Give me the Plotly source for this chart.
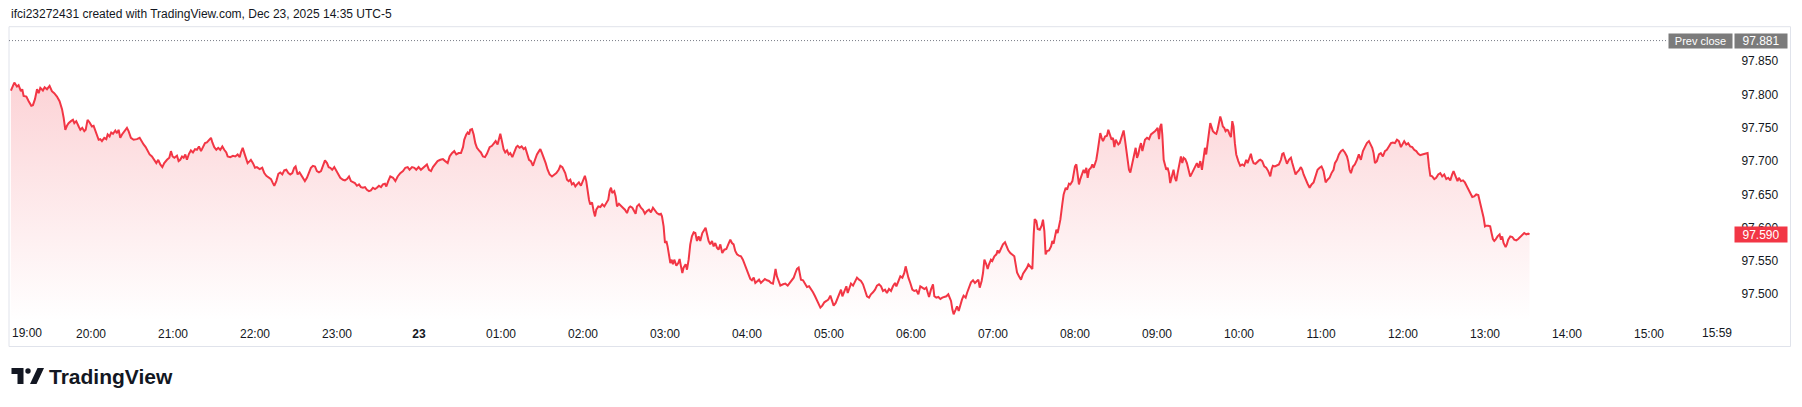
import pandas as pd
import plotly.graph_objects as go

# ---------------- data ----------------
TITLE = "ifci23272431 created with TradingView.com, Dec 23, 2025 14:35 UTC-5"
SESSION_START = "2025-12-22 19:00"
PREV_CLOSE = 97.881

# minutes since 19:00 (Dec 22) and price, in four stretches
seg1_min = [1.4, 3.9, 5.8, 7.0, 8.7, 9.7, 10.7, 12.7, 14.4, 16.3,
            17.5, 19.0, 20.5, 21.7, 22.9, 24.8, 26.1, 27.8, 29.7, 31.4,
            33.1, 35.1, 37.0, 38.8, 40.0, 41.2, 42.4, 43.6, 45.3, 46.8,
            47.8, 49.2, 51.0, 52.2, 53.6, 55.1, 56.1, 57.5, 59.0, 60.7,
            61.9, 63.9, 65.6, 66.8, 68.0, 69.7, 71.2, 72.2, 73.6, 74.8,
            76.1, 77.8, 79.0, 80.2, 81.4, 82.7, 84.4, 86.3, 87.5, 89.2,
            91.2, 93.6, 95.6, 97.3, 98.5, 100.0, 100.9, 102.9, 104.6, 106.3,
            107.8, 109.2, 110.7, 112.2, 113.6, 115.6, 117.3, 118.5, 119.7, 121.0,
            122.9, 124.1, 125.3, 126.6, 127.8, 129.0, 130.2, 131.7, 133.1, 134.6,
            136.1, 137.5, 139.0, 140.5, 141.9, 143.4, 144.8, 146.3, 147.8, 148.8,
            150.2, 151.7, 153.1, 154.6, 156.1, 157.5, 159.0, 160.0, 161.9, 163.9,
            165.6, 167.3, 168.8, 169.7, 171.0, 172.2, 173.4, 174.6, 176.1, 177.0,
            178.5, 180.0, 181.4, 183.4, 185.3, 186.8, 188.3, 190.2, 191.7, 193.1,
            194.1, 195.6, 197.1, 198.5, 200.0, 201.4, 202.9, 204.4, 205.8, 207.3,
            208.7, 209.7, 211.2, 212.6, 214.1, 215.6, 216.5, 218.0, 219.5, 220.9,
            222.4, 223.9, 225.3, 226.8, 228.3, 229.7, 231.2, 232.7, 233.9, 235.1,
            236.5, 238.0, 239.5, 240.9, 242.4, 244.4, 245.8, 247.3, 248.8, 250.2,
            251.7, 253.1, 254.6, 256.1, 257.5, 259.0, 260.5, 261.9, 263.4, 264.8,
            266.3, 267.8, 269.2, 270.7, 272.2, 273.6, 275.1, 276.1, 277.5, 278.5]
seg1_px = [97.806, 97.818, 97.812, 97.814, 97.805, 97.808, 97.798, 97.797, 97.790, 97.783,
           97.784, 97.793, 97.808, 97.802, 97.810, 97.806, 97.811, 97.808, 97.813, 97.805,
           97.802, 97.797, 97.790, 97.778, 97.765, 97.747, 97.753, 97.757, 97.760, 97.762,
           97.757, 97.760, 97.752, 97.747, 97.750, 97.745, 97.747, 97.762, 97.758, 97.752,
           97.753, 97.740, 97.732, 97.733, 97.730, 97.735, 97.733, 97.740, 97.737, 97.743,
           97.741, 97.746, 97.742, 97.747, 97.735, 97.740, 97.745, 97.750, 97.745, 97.735,
           97.732, 97.733, 97.735, 97.728, 97.725, 97.721, 97.717, 97.710, 97.707, 97.702,
           97.697, 97.702, 97.695, 97.691, 97.697, 97.702, 97.705, 97.715, 97.707, 97.705,
           97.708, 97.700, 97.702, 97.707, 97.705, 97.710, 97.702, 97.711, 97.716, 97.713,
           97.718, 97.717, 97.722, 97.715, 97.720, 97.727, 97.728, 97.732, 97.735, 97.728,
           97.721, 97.717, 97.720, 97.717, 97.722, 97.717, 97.713, 97.707, 97.706, 97.708,
           97.707, 97.710, 97.706, 97.713, 97.720, 97.712, 97.705, 97.697, 97.700, 97.702,
           97.697, 97.690, 97.691, 97.688, 97.690, 97.682, 97.678, 97.675, 97.673, 97.667,
           97.663, 97.670, 97.681, 97.683, 97.680, 97.686, 97.687, 97.682, 97.680, 97.682,
           97.690, 97.692, 97.680, 97.683, 97.678, 97.673, 97.670, 97.675, 97.682, 97.690,
           97.693, 97.692, 97.685, 97.683, 97.685, 97.693, 97.701, 97.697, 97.691, 97.690,
           97.687, 97.691, 97.685, 97.680, 97.675, 97.672, 97.671, 97.673, 97.677, 97.670,
           97.668, 97.667, 97.663, 97.665, 97.661, 97.660, 97.661, 97.657, 97.655, 97.656,
           97.660, 97.658, 97.660, 97.663, 97.661, 97.665, 97.666, 97.662, 97.670, 97.677]

seg2_min = [279.0, 281.0, 282.7, 284.4, 286.3, 288.3, 290.0, 291.7, 293.1, 294.9,
            296.6, 298.0, 299.7, 301.4, 302.9, 304.6, 305.8, 307.3, 308.8, 310.2,
            311.9, 313.6, 315.6, 317.5, 319.2, 321.0, 322.4, 324.1, 325.8, 327.3,
            329.0, 330.7, 332.2, 333.1, 334.6, 335.6, 336.6, 337.5, 338.8, 340.0,
            341.2, 342.4, 343.9, 345.3, 346.8, 348.3, 349.7, 350.7, 351.7, 353.4,
            354.6, 356.1, 357.5, 358.5, 359.5, 360.7, 361.9, 363.1, 364.4, 365.6,
            366.8, 368.3, 369.7, 371.2, 372.2, 373.6, 375.1, 376.6, 377.8, 379.0,
            380.5, 381.9, 383.4, 384.9, 386.3, 387.8, 388.8, 390.0, 391.2, 392.7,
            394.1, 395.6, 397.3, 399.0, 400.5, 402.2, 403.4, 404.9, 405.8, 407.0,
            408.3, 409.5, 410.7, 411.9, 413.1, 414.4, 415.6, 417.0, 418.5, 420.0,
            421.4, 422.4, 423.4, 424.4, 425.3, 426.6, 427.8, 428.8, 429.7, 431.2,
            432.7, 434.1, 435.6, 437.0, 438.5, 439.5, 440.5, 441.4, 442.9, 443.9,
            444.9, 446.3, 447.8, 449.2, 450.7, 452.2, 453.6, 454.6, 456.1, 457.5,
            458.5, 459.5, 461.0, 462.4, 463.9, 465.3, 466.8, 468.3, 469.7, 471.2,
            472.7, 474.1, 475.6, 477.0, 477.8, 479.0, 480.0, 481.0, 481.9, 482.9,
            483.9, 484.9, 485.8, 486.8, 488.3, 489.7, 490.7, 491.7, 492.7, 493.6,
            495.1, 496.1, 497.3, 498.5, 499.7, 501.0, 502.2, 503.4, 504.6, 505.8,
            507.3, 508.8, 509.7, 510.7, 511.9, 513.1, 514.4, 515.6, 516.8, 518.0,
            519.2, 520.5, 521.9, 523.4, 524.9, 526.3, 527.8, 529.0, 530.2, 531.4,
            532.7, 534.1, 535.6, 537.0, 538.5, 540.0, 541.2, 542.4, 543.6, 544.9,
            546.1, 547.3, 548.8, 550.2, 551.7, 553.1, 554.6, 556.1, 557.5, 559.0,
            560.0, 560.9, 561.9, 563.1]
seg2_px = [97.677, 97.675, 97.670, 97.677, 97.682, 97.685, 97.690, 97.691, 97.687, 97.691,
           97.690, 97.687, 97.691, 97.687, 97.690, 97.692, 97.695, 97.687, 97.685, 97.691,
           97.696, 97.700, 97.702, 97.703, 97.700, 97.697, 97.707, 97.712, 97.715, 97.710,
           97.712, 97.712, 97.721, 97.732, 97.740, 97.743, 97.740, 97.747, 97.748, 97.740,
           97.727, 97.720, 97.716, 97.713, 97.707, 97.706, 97.711, 97.717, 97.721, 97.723,
           97.727, 97.730, 97.725, 97.732, 97.741, 97.730, 97.718, 97.713, 97.716, 97.710,
           97.712, 97.706, 97.715, 97.721, 97.723, 97.720, 97.722, 97.718, 97.720, 97.710,
           97.702, 97.700, 97.693, 97.702, 97.710, 97.715, 97.718, 97.712, 97.706, 97.697,
           97.687, 97.680, 97.677, 97.680, 97.682, 97.687, 97.693, 97.691, 97.687, 97.682,
           97.672, 97.670, 97.672, 97.665, 97.667, 97.662, 97.665, 97.668, 97.663, 97.672,
           97.678, 97.670, 97.652, 97.642, 97.635, 97.638, 97.625, 97.617, 97.627, 97.632,
           97.631, 97.635, 97.632, 97.636, 97.642, 97.655, 97.660, 97.652, 97.655, 97.647,
           97.632, 97.636, 97.632, 97.630, 97.627, 97.622, 97.630, 97.632, 97.630, 97.625,
           97.621, 97.632, 97.635, 97.630, 97.627, 97.621, 97.625, 97.627, 97.623, 97.630,
           97.625, 97.622, 97.620, 97.621, 97.617, 97.602, 97.577, 97.580, 97.572, 97.555,
           97.547, 97.552, 97.545, 97.552, 97.543, 97.547, 97.553, 97.542, 97.532, 97.540,
           97.545, 97.537, 97.552, 97.575, 97.587, 97.593, 97.592, 97.580, 97.587, 97.580,
           97.592, 97.597, 97.600, 97.591, 97.580, 97.575, 97.580, 97.572, 97.577, 97.570,
           97.567, 97.575, 97.562, 97.567, 97.568, 97.575, 97.582, 97.577, 97.575, 97.565,
           97.560, 97.558, 97.557, 97.552, 97.543, 97.537, 97.528, 97.523, 97.521, 97.525,
           97.517, 97.520, 97.522, 97.517, 97.520, 97.523, 97.521, 97.520, 97.517, 97.516,
           97.527, 97.538, 97.527, 97.520]

seg3_min = [564.4, 566.4, 568.1, 569.8, 571.2, 572.9, 574.2, 575.4, 576.6, 577.8,
            578.5, 579.5, 581.0, 582.4, 583.9, 585.4, 586.8, 588.3, 589.8, 591.2,
            592.4, 593.7, 595.1, 596.6, 598.1, 599.5, 601.0, 602.2, 603.4, 604.9,
            606.4, 607.8, 608.8, 609.8, 611.2, 612.7, 613.7, 615.1, 616.1, 617.6,
            619.0, 620.5, 622.0, 623.4, 624.9, 626.4, 627.8, 629.3, 630.7, 632.2,
            633.7, 635.1, 636.6, 638.1, 639.5, 641.0, 642.4, 643.9, 645.4, 646.8,
            648.3, 649.3, 650.7, 652.2, 653.7, 655.1, 656.1, 657.1, 658.1, 659.5,
            661.0, 662.4, 663.9, 665.4, 666.8, 668.3, 669.8, 671.2, 672.2, 673.2,
            674.6, 676.1, 677.1, 678.5, 680.0, 681.5, 682.9, 684.4, 685.9, 687.3,
            688.3, 689.3, 690.3, 691.2, 692.7, 693.7, 694.9, 696.1, 697.3, 698.5,
            700.0, 701.0, 702.4, 703.9, 705.4, 706.8, 708.3, 709.3, 710.3, 711.7,
            712.7, 713.7, 715.1, 716.1, 717.1, 718.5, 719.5, 721.0, 722.5, 723.4,
            724.4, 725.9, 727.3, 728.8, 730.3, 731.2, 732.7, 734.2, 735.6, 736.6,
            737.6, 739.0, 740.5, 742.0, 743.4, 744.9, 745.9, 747.3, 748.8, 749.8,
            750.5, 751.7, 752.7, 754.2, 755.6, 756.6, 757.6, 758.5, 759.5, 761.0,
            762.5, 763.4, 764.4, 765.4, 766.4, 767.3, 768.3, 769.3, 770.7, 771.7,
            773.2, 774.2, 775.6, 776.6, 778.1, 779.0, 780.0, 781.0, 782.0, 782.9,
            783.9, 785.4, 786.3, 787.3, 788.3, 789.3, 790.3, 791.7, 792.7, 793.7,
            794.6, 795.6, 796.6, 797.6, 798.5, 799.5, 800.5, 802.0, 803.4, 804.4,
            805.4, 806.8, 807.8, 808.8, 809.8, 810.7, 811.7, 812.7, 813.7, 814.6,
            815.6, 816.6, 818.1, 819.5, 820.5, 821.5, 822.4, 823.4, 824.4, 825.4,
            826.3, 827.3, 828.3, 829.3, 830.3, 831.2, 832.7, 834.2, 835.6, 837.1,
            838.5, 839.5, 840.5, 841.5, 842.4, 843.2, 843.9, 844.9, 845.9, 846.8,
            847.8, 848.8]
seg3_px = [97.513, 97.515, 97.516, 97.513, 97.517, 97.522, 97.525, 97.532, 97.538, 97.540,
           97.530, 97.522, 97.521, 97.516, 97.511, 97.512, 97.508, 97.503, 97.497, 97.491,
           97.485, 97.480, 97.483, 97.488, 97.490, 97.492, 97.498, 97.491, 97.483, 97.487,
           97.495, 97.502, 97.507, 97.497, 97.505, 97.512, 97.502, 97.512, 97.516, 97.513,
           97.520, 97.525, 97.522, 97.520, 97.515, 97.507, 97.497, 97.495, 97.500, 97.503,
           97.507, 97.513, 97.515, 97.512, 97.505, 97.507, 97.502, 97.508, 97.505, 97.512,
           97.517, 97.512, 97.520, 97.527, 97.525, 97.532, 97.542, 97.533, 97.525, 97.517,
           97.507, 97.505, 97.506, 97.500, 97.512, 97.510, 97.508, 97.510, 97.502, 97.496,
           97.507, 97.515, 97.497, 97.495, 97.496, 97.493, 97.495, 97.496, 97.497, 97.500,
           97.496, 97.490, 97.477, 97.470, 97.477, 97.482, 97.475, 97.485, 97.492, 97.498,
           97.495, 97.502, 97.510, 97.518, 97.521, 97.517, 97.520, 97.522, 97.510, 97.520,
           97.532, 97.552, 97.545, 97.538, 97.545, 97.552, 97.550, 97.557, 97.560, 97.566,
           97.562, 97.568, 97.575, 97.578, 97.571, 97.566, 97.562, 97.560, 97.557, 97.545,
           97.533, 97.527, 97.522, 97.531, 97.535, 97.540, 97.545, 97.542, 97.538, 97.590,
           97.613, 97.610, 97.598, 97.597, 97.603, 97.612, 97.595, 97.560, 97.565, 97.566,
           97.572, 97.580, 97.576, 97.587, 97.597, 97.592, 97.602, 97.612, 97.635, 97.650,
           97.660, 97.657, 97.666, 97.665, 97.670, 97.682, 97.692, 97.695, 97.677, 97.665,
           97.673, 97.682, 97.687, 97.682, 97.690, 97.675, 97.687, 97.690, 97.695, 97.690,
           97.695, 97.702, 97.715, 97.727, 97.742, 97.735, 97.730, 97.737, 97.738, 97.747,
           97.740, 97.732, 97.735, 97.721, 97.732, 97.728, 97.725, 97.727, 97.733, 97.740,
           97.746, 97.732, 97.705, 97.687, 97.683, 97.692, 97.702, 97.712, 97.720, 97.705,
           97.710, 97.720, 97.727, 97.715, 97.723, 97.732, 97.735, 97.733, 97.740, 97.742,
           97.745, 97.747, 97.750, 97.733, 97.752, 97.756, 97.740, 97.702, 97.692, 97.687,
           97.690, 97.682]

seg4_min = [849.7, 850.9, 852.1, 853.1, 854.1, 855.1, 856.5, 857.5, 858.5, 859.5,
            860.7, 861.9, 863.1, 864.3, 865.6, 866.8, 868.0, 869.2, 870.4, 871.7,
            872.9, 874.1, 875.1, 876.0, 877.0, 878.0, 879.0, 879.9, 880.9, 882.4,
            883.4, 884.3, 885.3, 886.3, 887.3, 888.2, 889.2, 890.2, 891.2, 892.1,
            893.1, 894.1, 895.1, 896.0, 897.0, 898.0, 899.5, 900.9, 902.4, 903.8,
            905.3, 906.3, 907.7, 908.7, 909.7, 910.7, 912.1, 913.6, 914.6, 915.6,
            917.0, 918.5, 919.9, 921.4, 922.9, 923.8, 924.8, 926.3, 927.7, 929.2,
            930.7, 931.7, 932.6, 933.6, 935.1, 936.5, 938.0, 939.0, 940.4, 941.4,
            942.4, 943.8, 945.3, 946.3, 947.3, 948.7, 950.2, 951.7, 953.1, 954.6,
            956.0, 957.5, 959.0, 960.4, 961.9, 963.4, 964.8, 966.3, 967.7, 969.2,
            970.2, 971.7, 973.1, 974.6, 976.0, 977.5, 979.0, 979.9, 980.9, 981.9,
            983.4, 984.8, 986.3, 987.7, 989.2, 990.7, 992.1, 993.6, 995.1, 996.5,
            997.5, 998.5, 999.5, 1000.9, 1002.4, 1003.8, 1005.3, 1006.8, 1008.2, 1009.7,
            1011.2, 1012.6, 1014.1, 1015.6, 1017.0, 1018.5, 1019.9, 1020.9, 1022.4, 1023.8,
            1025.3, 1026.8, 1028.2, 1029.7, 1031.2, 1032.6, 1034.1, 1035.6, 1037.0, 1038.0,
            1039.0, 1040.0, 1041.4, 1042.9, 1044.3, 1045.8, 1047.3, 1048.7, 1050.2, 1051.7,
            1053.1, 1054.6, 1056.0, 1057.0, 1058.5, 1059.9, 1060.9, 1062.4, 1063.9, 1065.3,
            1066.8, 1068.2, 1069.7, 1070.7, 1072.1, 1073.6, 1075.1, 1076.0, 1077.0, 1078.0,
            1079.0, 1080.0, 1080.9, 1082.4, 1083.8, 1084.8, 1085.8, 1086.8, 1087.7, 1089.2,
            1090.7, 1091.7, 1092.6, 1093.6, 1095.1, 1096.0, 1097.0, 1098.5, 1100.0, 1101.4,
            1102.9, 1104.3, 1105.8, 1107.3, 1108.7, 1110.2, 1111.6, 1112.6]
seg4_px = [97.667, 97.680, 97.687, 97.675, 97.670, 97.682, 97.700, 97.707, 97.697, 97.705,
           97.703, 97.697, 97.687, 97.677, 97.682, 97.687, 97.692, 97.697, 97.690, 97.700,
           97.687, 97.707, 97.720, 97.710, 97.730, 97.742, 97.757, 97.752, 97.745, 97.742,
           97.741, 97.747, 97.755, 97.767, 97.760, 97.752, 97.750, 97.745, 97.747, 97.746,
           97.740, 97.736, 97.760, 97.752, 97.727, 97.710, 97.700, 97.693, 97.695, 97.693,
           97.702, 97.697, 97.705, 97.711, 97.702, 97.697, 97.696, 97.700, 97.701, 97.702,
           97.700, 97.692, 97.690, 97.685, 97.677, 97.687, 97.693, 97.692, 97.693, 97.695,
           97.702, 97.711, 97.712, 97.706, 97.696, 97.702, 97.705, 97.697, 97.687, 97.680,
           97.683, 97.686, 97.691, 97.687, 97.680, 97.672, 97.666, 97.660, 97.665, 97.668,
           97.677, 97.687, 97.690, 97.692, 97.685, 97.668, 97.672, 97.675, 97.682, 97.687,
           97.697, 97.702, 97.710, 97.715, 97.717, 97.713, 97.707, 97.700, 97.687, 97.682,
           97.692, 97.695, 97.702, 97.710, 97.702, 97.715, 97.721, 97.727, 97.730, 97.725,
           97.720, 97.712, 97.697, 97.700, 97.710, 97.712, 97.707, 97.715, 97.717, 97.722,
           97.727, 97.728, 97.727, 97.732, 97.730, 97.721, 97.727, 97.730, 97.725, 97.727,
           97.722, 97.721, 97.717, 97.715, 97.711, 97.709, 97.710, 97.711, 97.712, 97.712,
           97.692, 97.678, 97.677, 97.673, 97.675, 97.680, 97.682, 97.677, 97.680, 97.673,
           97.675, 97.671, 97.680, 97.685, 97.677, 97.670, 97.675, 97.670, 97.671, 97.668,
           97.662, 97.656, 97.651, 97.646, 97.647, 97.650, 97.649, 97.642, 97.632, 97.622,
           97.615, 97.602, 97.603, 97.603, 97.602, 97.592, 97.583, 97.580, 97.582, 97.587,
           97.590, 97.582, 97.587, 97.577, 97.571, 97.575, 97.582, 97.587, 97.586, 97.582,
           97.581, 97.583, 97.586, 97.590, 97.592, 97.590, 97.591, 97.590]

x_tick_times = ["2025-12-22 20:00", "2025-12-22 21:00", "2025-12-22 22:00", "2025-12-22 23:00",
                "2025-12-23 00:00", "2025-12-23 01:00", "2025-12-23 02:00", "2025-12-23 03:00",
                "2025-12-23 04:00", "2025-12-23 05:00", "2025-12-23 06:00", "2025-12-23 07:00",
                "2025-12-23 08:00", "2025-12-23 09:00", "2025-12-23 10:00", "2025-12-23 11:00",
                "2025-12-23 12:00", "2025-12-23 13:00", "2025-12-23 14:00", "2025-12-23 15:00"]
x_tick_text = ["20:00", "21:00", "22:00", "23:00", "<b>23</b>", "01:00", "02:00", "03:00",
               "04:00", "05:00", "06:00", "07:00", "08:00", "09:00", "10:00", "11:00",
               "12:00", "13:00", "14:00", "15:00"]
FIRST_LABEL = "19:00"
LAST_LABEL = "15:59"
y_tick_vals = [97.500, 97.550, 97.600, 97.650, 97.700, 97.750, 97.800, 97.850]

# ---------------- build ----------------
minutes = seg1_min + seg2_min + seg3_min + seg4_min
prices = seg1_px + seg2_px + seg3_px + seg4_px
times = pd.Timestamp(SESSION_START) + pd.to_timedelta(minutes, unit="min")

W, H = 1802, 407
L, R, T, B = 9, 70, 27, 88
PW, PH = W - L - R, H - T - B


def pxx(X):
    return (X - L) / PW


def pxy(Y):
    return (T + PH - Y) / PH


RED = "#F23645"
TXT = "#131722"
FONT = "Liberation Sans, Arial, sans-serif"

fig = go.Figure()
fig.add_trace(go.Scatter(
    x=times, y=prices, mode="lines",
    line=dict(color=RED, width=2),
    fill="tozeroy",
    fillgradient=dict(type="vertical",
                      colorscale=[[0, "rgba(242,54,69,0.0)"], [1, "rgba(242,54,69,0.22)"]],
                      start=97.46, stop=97.82),
    hoverinfo="skip", showlegend=False,
))

fig.update_layout(
    width=W, height=H,
    margin=dict(l=L, r=R, t=T, b=B, pad=0),
    paper_bgcolor="white", plot_bgcolor="white",
    font=dict(family=FONT, size=12, color=TXT),
    showlegend=False,
    xaxis=dict(type="date",
               range=["2025-12-22 19:00:00", "2025-12-23 16:00:45"],
               tickmode="array", tickvals=x_tick_times, ticktext=x_tick_text,
               showgrid=False, zeroline=False, showline=False,
               ticks="outside", ticklen=4, tickcolor="rgba(0,0,0,0)",
               tickfont=dict(size=12, color=TXT, family=FONT)),
    yaxis=dict(side="right", range=[97.4629, 97.9014],
               tickmode="array", tickvals=y_tick_vals, tickformat=".3f",
               showgrid=False, zeroline=False, showline=False,
               ticks="outside", ticklen=6, tickcolor="rgba(0,0,0,0)",
               tickfont=dict(size=12, color=TXT, family=FONT)),
)

# pane border
fig.add_shape(type="rect", xref="paper", yref="paper",
              x0=pxx(9), x1=pxx(1790.5), y0=pxy(346.5), y1=pxy(26.7),
              line=dict(color="#e0e3eb", width=1), fillcolor="rgba(0,0,0,0)", layer="above")

# previous close dotted line
fig.add_shape(type="line", xref="paper", yref="y",
              x0=0, x1=pxx(1666), y0=PREV_CLOSE, y1=PREV_CLOSE,
              line=dict(color="#787b86", width=1, dash="1px,2px"))

ann = []
ann.append(dict(text=TITLE, xref="paper", yref="paper", x=pxx(9), y=pxy(14),
                xanchor="left", yanchor="middle", showarrow=False,
                font=dict(size=12, color=TXT, family=FONT)))
ann.append(dict(text=FIRST_LABEL, xref="paper", yref="paper", x=pxx(9.5), y=pxy(333),
                xanchor="left", yanchor="middle", showarrow=False,
                font=dict(size=12, color=TXT, family=FONT)))
ann.append(dict(text=LAST_LABEL, xref="paper", yref="paper", x=pxx(1734), y=pxy(333),
                xanchor="right", yanchor="middle", showarrow=False,
                font=dict(size=12, color=TXT, family=FONT)))
# prev close labels
ann.append(dict(text="Prev close", xref="paper", yref="y", x=pxx(1667.5), y=PREV_CLOSE,
                xanchor="left", yanchor="middle", showarrow=False,
                width=63, height=14, borderpad=0, bgcolor="#7b7b7b",
                font=dict(size=11, color="white", family=FONT)))
ann.append(dict(text=f"{PREV_CLOSE:.3f}", xref="paper", yref="y", x=pxx(1734), y=PREV_CLOSE,
                xanchor="left", yanchor="middle", showarrow=False,
                width=52, height=14, borderpad=0, bgcolor="#7b7b7b",
                font=dict(size=12, color="white", family=FONT)))
# last price label
ann.append(dict(text=f"{prices[-1]:.3f}", xref="paper", yref="y", x=pxx(1734), y=prices[-1],
                xanchor="left", yanchor="middle", showarrow=False,
                width=52, height=15, borderpad=0, bgcolor=RED,
                font=dict(size=12, color="white", family=FONT)))
# TradingView wordmark
ann.append(dict(text="<b>TradingView</b>", xref="paper", yref="paper", x=pxx(47), y=pxy(376),
                xanchor="left", yanchor="middle", showarrow=False,
                font=dict(size=21, color="#131722", family=FONT)))
fig.update_layout(annotations=ann)

# TradingView logo glyph
logo_fill = "#131722"
fig.add_shape(type="path", xref="paper", yref="paper",
              path=(f"M {pxx(11.5)},{pxy(368)} L {pxx(23.5)},{pxy(368)} L {pxx(23.5)},{pxy(384)} "
                    f"L {pxx(17.5)},{pxy(384)} L {pxx(17.5)},{pxy(374)} L {pxx(11.5)},{pxy(374)} Z"),
              fillcolor=logo_fill, line=dict(width=0))
fig.add_shape(type="circle", xref="paper", yref="paper",
              x0=pxx(25.3), x1=pxx(30.7), y0=pxy(373.7), y1=pxy(368.3),
              fillcolor=logo_fill, line=dict(width=0))
fig.add_shape(type="path", xref="paper", yref="paper",
              path=(f"M {pxx(37.5)},{pxy(368)} L {pxx(44)},{pxy(368)} L {pxx(36.5)},{pxy(384)} "
                    f"L {pxx(30)},{pxy(384)} Z"),
              fillcolor=logo_fill, line=dict(width=0))

# the page body has a default 8px margin; remove it so the figure sits at the window origin
fig.write_html("out.html", config={"displayModeBar": False},
               post_script="document.body.style.margin='0px';document.body.style.overflow='hidden';")
